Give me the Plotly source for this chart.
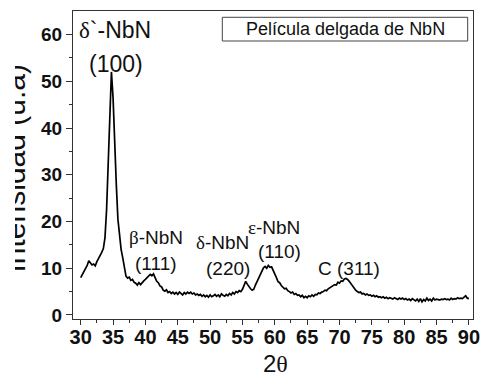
import numpy as np
import plotly.graph_objects as go

# ---- data ----
theta_start = 30.0
theta_step = 0.25
intensity = [
    8.0, 8.6, 9.2, 9.8,      # 30
    10.6, 11.6, 11.2, 10.7,  # 31
    10.9, 10.5, 11.4, 12.0,  # 32
    12.6, 13.4, 14.2, 16.5,  # 33
    22.5, 33.0, 44.0, 52.0,  # 34
    46.5, 35.0, 28.0, 20.5,  # 35
    17.0, 14.0, 12.2, 10.0,  # 36
    8.3, 7.9, 8.1, 7.4,      # 37
    7.6, 7.0, 6.8, 6.4,      # 38
    6.9, 6.5, 7.0, 7.3,      # 39
    7.6, 8.0, 8.2, 8.7,      # 40
    8.4, 8.8, 8.0, 7.2,      # 41
    6.9, 6.2, 6.0, 5.3,      # 42
    5.1, 5.4, 4.8, 5.0,      # 43
    4.6, 4.9, 4.5, 4.8,      # 44
    4.4, 4.9, 4.6, 4.3,      # 45
    4.8, 4.5, 4.9, 4.6,      # 46
    4.9, 4.5, 4.7, 4.3,      # 47
    4.5, 4.2, 4.4, 4.0,      # 48
    4.3, 3.9, 4.2, 3.8,      # 49
    4.3, 3.9, 4.1, 4.4,      # 50
    4.0, 4.3, 3.9, 4.5,      # 51
    4.2, 4.0, 4.4, 4.1,      # 52
    4.6, 4.3, 4.8, 4.5,      # 53
    5.0, 4.8, 5.2, 5.0,      # 54
    5.5, 6.3, 7.2, 6.6,      # 55
    6.0, 5.6, 5.3, 5.5,      # 56
    6.4, 7.2, 8.0, 8.8,      # 57
    9.5, 10.1, 10.4, 10.0,   # 58
    10.6, 10.2, 10.3, 9.6,   # 59
    8.8, 8.0, 7.1, 6.9,      # 60
    6.3, 6.0, 5.6, 5.7,      # 61
    5.2, 5.0, 4.7, 4.9,      # 62
    4.4, 4.6, 4.2, 4.3,      # 63
    3.9, 4.2, 3.7, 4.0,      # 64
    3.7, 4.1, 3.9, 4.3,      # 65
    4.0, 4.4, 4.3, 4.7,      # 66
    4.6, 4.9, 5.0, 5.3,      # 67
    5.2, 5.6, 5.8, 6.0,      # 68
    6.2, 6.5, 6.4, 7.0,      # 69
    6.8, 7.3, 7.2, 7.7,      # 70
    7.8, 7.6, 7.2, 6.7,      # 71
    6.2, 5.8, 5.3, 5.0,      # 72
    4.8, 4.9, 4.5, 4.6,      # 73
    4.3, 4.5, 4.2, 4.3,      # 74
    4.0, 4.2, 3.9, 4.1,      # 75
    3.8, 3.9, 3.7, 3.9,      # 76
    3.6, 3.8, 3.5, 3.7,      # 77
    3.6, 3.4, 3.7, 3.5,      # 78
    3.3, 3.6, 3.4, 3.6,      # 79
    3.3, 3.5, 3.2, 3.4,      # 80
    3.1, 3.5, 3.2, 3.0,      # 81
    3.4, 2.9, 3.5, 2.8,      # 82
    3.3, 3.0, 3.6, 3.1,      # 83
    3.4, 3.0, 3.6, 3.2,      # 84
    3.4, 3.3, 3.2, 3.4,      # 85
    3.3, 3.5, 3.3, 3.4,      # 86
    3.2, 3.6, 3.3, 3.5,      # 87
    3.4, 3.7, 3.5, 3.6,      # 88
    3.5, 3.8, 4.1, 3.6,      # 89
    3.5,                     # 90
]
two_theta = theta_start + theta_step * np.arange(len(intensity))

x_ticks = [30, 35, 40, 45, 50, 55, 60, 65, 70, 75, 80, 85, 90]
y_ticks = [0, 10, 20, 30, 40, 50, 60]

SERIF = "font-family:'Liberation Serif', 'Times New Roman', serif"
def greek(ch):
    return f'<span style="{SERIF}">{ch}</span>'

peak_labels = [
    (greek("δ") + "`-NbN", 35.3, 61.0, 23),
    ("(100)", 35.53, 53.7, 23),
    (greek("β") + "-NbN", 41.64, 16.6, 19),
    ("(111)", 41.64, 11.1, 19),
    (greek("δ") + "-NbN", 51.84, 15.4, 19),
    ("(220)", 52.77, 10.05, 19),
    (greek("ε") + "-NbN", 59.88, 18.8, 19),
    ("(110)", 60.8, 13.5, 19),
    ("C (311)", 71.47, 10.05, 19),
]

FONT = "Arial, 'Liberation Sans', sans-serif"
AX = "#333333"

fig = go.Figure()
fig.add_trace(go.Scatter(x=two_theta, y=intensity, mode="lines",
                         line=dict(color="black", width=1.7),
                         showlegend=False, hoverinfo="skip"))

fig.update_layout(
    width=480, height=378,
    margin=dict(l=73, r=7, t=11, b=59, autoexpand=False),
    paper_bgcolor="white", plot_bgcolor="white",
    showlegend=False,
    font=dict(family=FONT, color="black"),
)
fig.update_xaxes(
    range=[28.81, 90.63], tickvals=x_ticks, ticktext=[str(v) for v in x_ticks],
    ticks="outside", ticklen=5, tickwidth=1.2, tickcolor=AX,
    minor=dict(tickvals=[v + 2.5 for v in x_ticks[:-1]], ticks="outside",
               ticklen=3, tickwidth=1.2, tickcolor=AX, showgrid=False),
    showline=True, linecolor=AX, linewidth=1.3, mirror=True,
    showgrid=False, zeroline=False, automargin=False,
    ticklabeloverflow="allow", ticklabelstandoff=-5,
    tickfont=dict(family=FONT, size=20, weight="bold", color="#111"),
)
fig.update_yaxes(
    range=[-0.86, 65.03], tickvals=y_ticks, ticktext=[str(v) for v in y_ticks],
    ticks="outside", ticklen=6, tickwidth=1.2, tickcolor=AX,
    minor=dict(tickvals=[v + 5 for v in y_ticks[:-1]], ticks="outside",
               ticklen=3, tickwidth=1.2, tickcolor=AX, showgrid=False),
    showline=True, linecolor=AX, linewidth=1.3, mirror=True,
    showgrid=False, zeroline=False, automargin=False,
    tickfont=dict(family=FONT, size=19, weight="bold", color="#111"),
)

for text, xv, yv, sz in peak_labels:
    fig.add_annotation(x=xv, y=yv, xref="x", yref="y", text=text, showarrow=False,
                       font=dict(family=FONT, size=sz, color="#111"),
                       xanchor="center", yanchor="middle")

# x-axis title
fig.add_annotation(x=(275 - 73) / 400, y=(319 - 363) / 308, xref="paper", yref="paper",
                   text="2" + greek("θ"), showarrow=False,
                   font=dict(family=FONT, size=24, color="#111"),
                   xanchor="center", yanchor="middle", borderpad=0)

# y-axis title (partly cut off at the left, as in the reference)
fig.add_annotation(x=(14 - 73) / 400, y=(319 - 168.5) / 308, xref="paper", yref="paper",
                   text="Intensidad (u.a)", showarrow=False, textangle=-90,
                   font=dict(family=FONT, size=30, color="#111"),
                   xanchor="center", yanchor="middle")
fig.add_annotation(x=(7.5 - 73) / 400, y=(319 - 168) / 308, xref="paper", yref="paper",
                   text=" ", showarrow=False, width=15, height=270, bgcolor="white",
                   borderpad=0, borderwidth=0,
                   xanchor="center", yanchor="middle")

# legend-style box
fig.add_shape(type="rect", xref="paper", yref="paper",
              x0=(222.3 - 73) / 400, x1=(467.7 - 73) / 400,
              y0=(319 - 41) / 308, y1=(319 - 17.3) / 308,
              line=dict(color="#444", width=1), fillcolor="rgba(0,0,0,0)")
fig.add_annotation(x=(345 - 73) / 400, y=(319 - 29) / 308, xref="paper", yref="paper",
                   text="Película delgada de NbN", showarrow=False,
                   font=dict(family=FONT, size=18, color="#111"),
                   xanchor="center", yanchor="middle")

fig.write_html("out.html")
